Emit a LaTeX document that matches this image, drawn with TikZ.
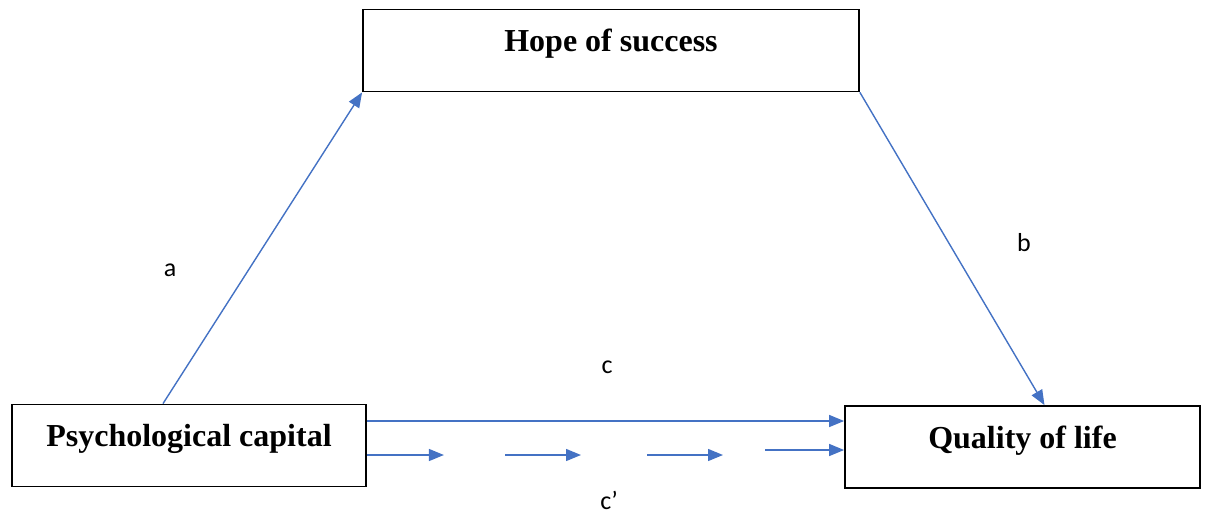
\documentclass[tikz,border=0pt]{standalone}
\usepackage{fontspec}
\setmainfont{Liberation Serif}
\newfontfamily\labfont{Carlito}
\usepackage{xcolor}
\usetikzlibrary{arrows.meta, positioning, calc}
\definecolor{arrblue}{HTML}{4472C4}
\tikzset{
  box/.style={rectangle, draw=black, line width=1.8pt, fill=white, align=center, inner sep=0pt, font=\fontsize{32}{36}\selectfont\bfseries, text height=42pt, text depth=40pt},
  lab/.style={font=\labfont\fontsize{26}{30}\selectfont, text=black, inner sep=0pt},
  arr/.style={-{Triangle[length=15pt, width=12pt]}, line width=1.4pt, draw=arrblue, fill=arrblue},
}

\begin{document}
\begin{tikzpicture}[x=1pt, y=-1pt]
  \useasboundingbox (0,0) rectangle (1206,514);
  \node[box, minimum width=496pt] (hope) at (611,50.5) {Hope of success};
  \node[box, minimum width=354pt] (psych) at (189,445.5) {Psychological capital};
  \node[box, minimum width=355pt] (qual) at (1022.5,447) {Quality of life};
  \node[lab] (la) at (170,270) {a};
  \node[lab] (lb) at (1024,243) {b};
  \node[lab] (lc) at (607,367) {c};
  \node[lab] (lcp) at (609,500) {c’};
  \draw[arr] ([xshift=-26pt]psych.north) -- (hope.south west);
  \draw[arr] (hope.south east) -- ([xshift=22pt]qual.north);
  \draw[arr] ([yshift=24.5pt]psych.east) -- ([yshift=24.5pt]psych.east -| qual.west);
  % c' as broken arrows
  \draw[arr] ([yshift=-9.5pt]psych.east) -- ++(77,0);
  \foreach \x in {505,647}
    \draw[arr] (\x,455) -- ++(76,0);
  \draw[arr] ([xshift=-79pt, yshift=-3pt]qual.west) -- ([yshift=-3pt]qual.west);
\end{tikzpicture}
\end{document}
